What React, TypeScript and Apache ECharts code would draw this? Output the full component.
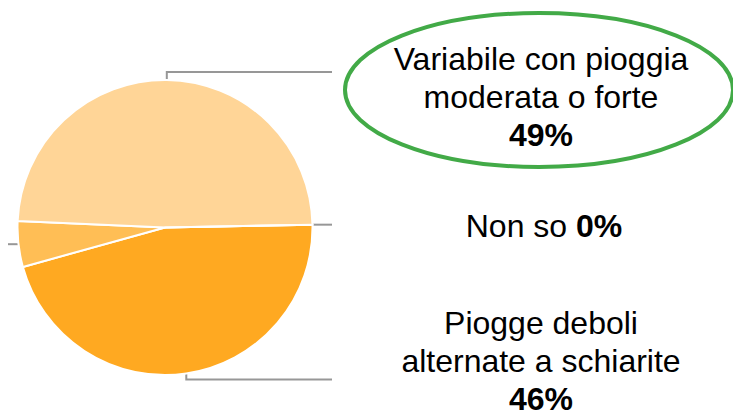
import React, { useEffect, useRef } from "react";
import * as echarts from "echarts";

// Data (clockwise from 3 o'clock)
const categories = [
  "Piogge deboli\nalternate a schiarite",
  "Altro",
  "Variabile con pioggia\nmoderata o forte",
  "Non so",
];
const values = [46, 5, 49, 0];
const sliceColors = ["#FFA921", "#FFBE55", "#FFD597", "#FFD597"];

// Label placement (layout only)
const labelPlacement = [
  { x: 541, y: 361, dir: "down", lineEnd: 332 },
  { x: 0, y: 0, dir: "left", lineEnd: 8 },
  { x: 541, y: 97, dir: "up", lineEnd: 332 },
  { x: 544, y: 226, dir: "right", lineEnd: 332 },
];

export default function App() {
  const ref = useRef<HTMLDivElement>(null);
  useEffect(() => {
    document.body.style.margin = "0";
    if (!ref.current) return;
    const chart = echarts.init(ref.current, undefined, { renderer: "svg" });
    const font = "'Liberation Sans', Arial, sans-serif";
    chart.setOption({
      animation: false,
      backgroundColor: "#ffffff",
      graphic: [
        {
          type: "ellipse",
          shape: { cx: 539, cy: 90, rx: 194, ry: 77 },
          style: { fill: "none", stroke: "#42AA47", lineWidth: 4 },
          z: 10,
        },
      ],
      series: [
        {
          type: "pie",
          center: [165, 227.5],
          radius: [0, 147.5],
          startAngle: 1.1,
          clockwise: true,
          avoidLabelOverlap: false,
          itemStyle: { borderColor: "#ffffff", borderWidth: 2 },
          label: {
            show: true,
            position: "outside",
            fontFamily: font,
            fontSize: 32,
            lineHeight: 38,
            color: "#000000",
            align: "center",
            formatter: (p: any) => {
              if (p.dataIndex === 1) return "";
              const pct = "{b|" + Math.round(p.percent) + "%}";
              if (p.dataIndex === 3) return "{n|" + p.name + " }" + pct;
              const lines = String(p.name).split("\n").map((l: string) => "{n|" + l + "}");
              return lines.join("\n") + "\n" + pct;
            },
            rich: {
              n: { fontFamily: font, fontSize: 32, lineHeight: 38, color: "#000", align: "center" },
              b: { fontFamily: font, fontSize: 32, lineHeight: 38, color: "#000", fontWeight: "bold", align: "center" },
            },
          },
          labelLine: {
            show: true,
            length: 8,
            length2: 20,
            lineStyle: { color: "#979797", width: 2 },
          },
          labelLayout: (params: any) => {
            const cfg = labelPlacement[params.dataIndex];
            const pts = params.labelLinePoints;
            const res: any = {
              x: cfg.x,
              y: cfg.y,
              align: "center",
              verticalAlign: "middle",
            };
            if (pts && pts[0]) {
              const s = pts[0];
              if (cfg.dir === "up") {
                res.labelLinePoints = [s, [s[0], s[1] - 8], [cfg.lineEnd, s[1] - 8]];
              } else if (cfg.dir === "down") {
                res.labelLinePoints = [s, [s[0], s[1] + 6], [cfg.lineEnd, s[1] + 6]];
              } else {
                res.labelLinePoints = [s, [(s[0] + cfg.lineEnd) / 2, s[1]], [cfg.lineEnd, s[1]]];
              }
            }
            return res;
          },
          data: categories.map((name, i) => ({
            name,
            value: values[i],
            itemStyle: { color: sliceColors[i] },
          })),
        },
      ],
    });
    return () => chart.dispose();
  }, []);
  return <div ref={ref} style={{ width: 733, height: 417 }} />;
}
